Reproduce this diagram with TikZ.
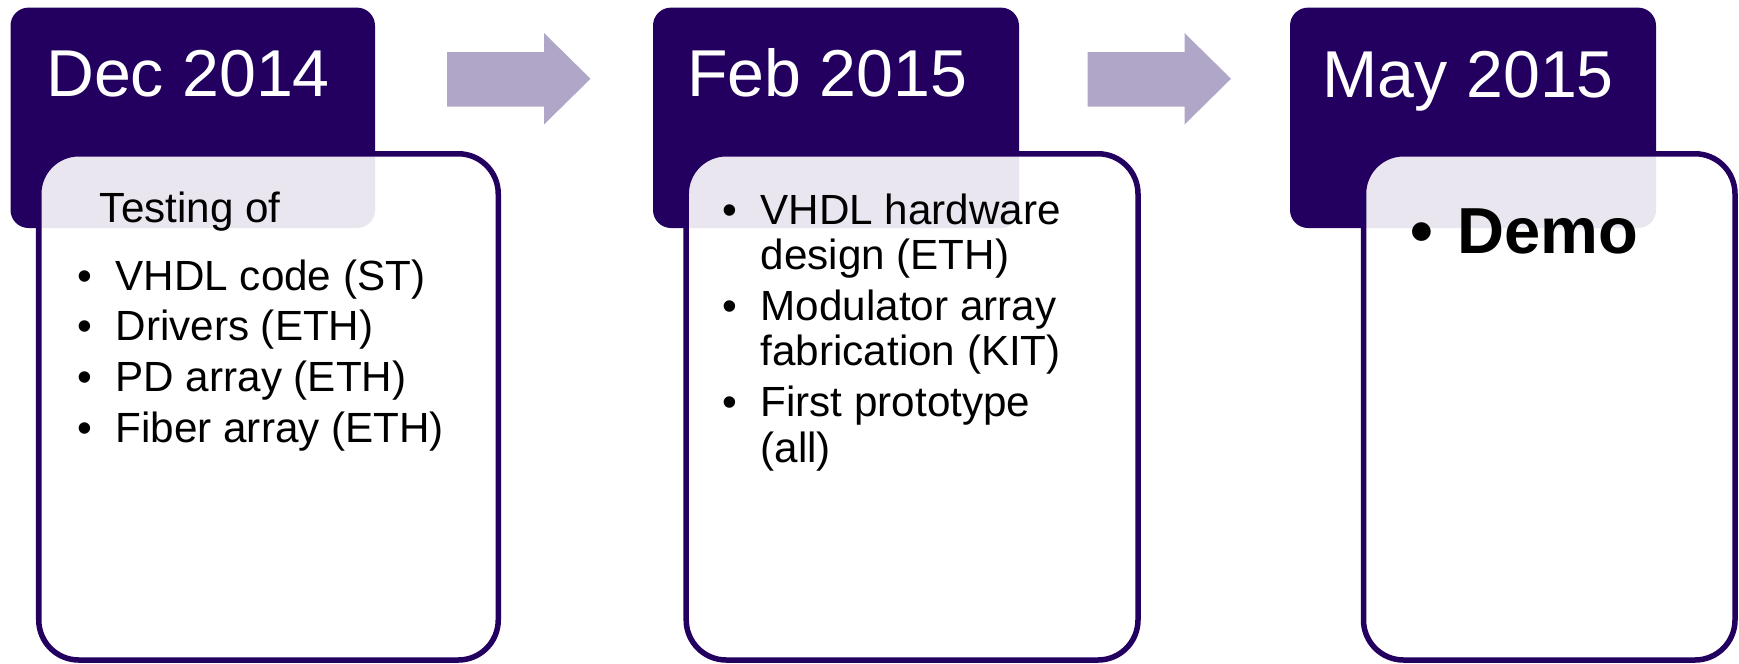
\documentclass[tikz,border=0pt]{standalone}
\usepackage{fontspec}
\setmainfont{Liberation Sans}
\definecolor{hdcol}{HTML}{23005F}
\definecolor{arrcol}{HTML}{AFA6C8}
\newlength{\bulletw}
\setlength{\bulletw}{10.8pt}
\newcommand{\itm}[1]{\hangindent=\bulletw\hangafter=1 \makebox[\bulletw][l]{•}#1\par}
\newcommand{\bodysetup}{\fontsize{12}{12.95}\selectfont\setlength{\parskip}{1.5pt}}

\begin{document}
\begin{tikzpicture}[x=0.01cm,y=-0.01cm,
        hdbox/.style={fill=hdcol, rounded corners=0.18cm},
        bodybox/.style={draw=hdcol, line width=0.055cm, fill=white, fill opacity=0.9, rounded corners=0.4cm},
        hdtext/.style={anchor=base west, inner sep=0, text=white, font=\fontsize{18.85}{22}\selectfont},
        bodytext/.style={anchor=base west, inner sep=0, text width=4cm, execute at begin node=\bodysetup}]
        \useasboundingbox (0,0) rectangle (1739,663);
        \fill[hdbox] (10.5,7.6) rectangle (375,228);
        \fill[hdbox] (653,7.6) rectangle (1019,228);
        \fill[hdbox] (1290,7.6) rectangle (1656,228);
        \draw[bodybox] (38.75,153.75) rectangle (498.25,660);
        \draw[bodybox] (686.2,153.75) rectangle (1138,660);
        \draw[bodybox] (1363.5,153.75) rectangle (1735,660);
        \foreach \ax in {447,1087.5} {
            \fill[arrcol] (\ax,52) -- ++(97,0) -- ++(0,-19) -- ++(46.5,45.75) -- ++(-46.5,45.75)
                -- ++(0,-18) -- ++(-97,0) -- cycle;
        }
        \node[hdtext] (dateA) at (45.5,96.5) {Dec 2014};
        \node[hdtext] (dateB) at (686.6,96.5) {Feb 2015};
        \node[hdtext] (dateC) at (1322,97) {May 2015};
        \node[bodytext] (listA) at (77,222) {\hspace*{6.3pt}Testing of\par\vspace{4.9pt}
            \itm{VHDL code (ST)}\itm{Drivers (ETH)}\itm{PD array (ETH)}\itm{Fiber array (ETH)}};
        \node[bodytext] (listB) at (722,224) {\itm{VHDL hardware\newline design (ETH)}%
            \itm{Modulator array\newline fabrication (KIT)}\itm{First prototype\newline (all)}};
        \node[anchor=base west, inner sep=0, font=\fontsize{18.5}{22}\selectfont\bfseries] (demo)
            at (1409.6,253.7) {\makebox[13.4pt][l]{•}Demo};
    \end{tikzpicture}
\end{document}
